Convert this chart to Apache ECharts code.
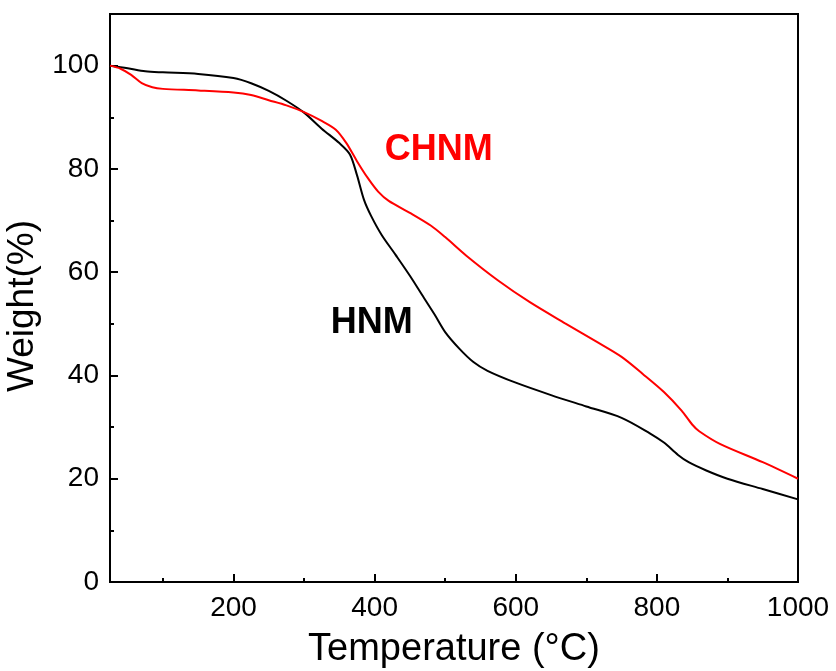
<!DOCTYPE html>
<html>
<head>
<meta charset="utf-8">
<script src="https://cdn.jsdelivr.net/npm/echarts@6/dist/echarts.min.js"></script>
<style>html,body{margin:0;padding:0;background:#fff}#c{width:836px;height:671px}</style>
</head>
<body>
<div id="c"></div>
<script>
var hnmT = [25,50,75,100,150,200,225,250,275,300,325,350,365,375,385,395,410,430,450,470,485,500,520,540,560,600,650,700,750,790,810,830,845,870,900,950,1000];
var hnmW = [100,99.5,98.9,98.7,98.4,97.6,96.6,95.1,93.2,90.9,87.8,85.0,82.8,78.8,74.0,70.9,67.2,63.3,59.3,55.0,51.8,48.4,45.2,42.6,40.9,38.6,36.2,34.0,31.8,28.8,27.0,24.6,23.2,21.6,20.0,18.0,16.0];
var chnmT = [25,40,55,70,85,100,150,200,225,250,275,300,325,345,360,375,390,405,420,450,480,500,530,575,620,670,715,750,780,810,835,850,860,890,950,1000];
var chnmW = [100,99.4,98.2,96.6,95.8,95.5,95.2,94.8,94.3,93.3,92.3,91.0,89.3,87.6,85.0,81.5,78.3,75.6,73.8,71.5,69.0,66.8,63.2,58.4,54.2,50.1,46.5,43.6,40.3,36.8,33.2,30.5,29.2,26.7,23.2,20.0];
var xMajor = [200,400,600,800,1000];
var xMinor = [100,300,500,700,900];
var yMajor = [0,20,40,60,80,100];
var yMinor = [10,30,50,70,90];

function pairs(a,b){return a.map(function(v,i){return [v,b[i]];});}
var FONT = 'Liberation Sans, Arial, sans-serif';
var chart = echarts.init(document.getElementById('c'), null, {renderer:'canvas'});
chart.setOption({
  animation:false,
  backgroundColor:'#fff',
  grid:{left:110,right:38,top:14,bottom:89,show:true,borderColor:'#000',borderWidth:2,backgroundColor:'transparent',containLabel:false,outerBoundsMode:'none'},
  xAxis:[{
    type:'value',min:25,max:1000,
    name:'Temperature (°C)',nameLocation:'middle',nameGap:49,
    nameTextStyle:{fontFamily:FONT,fontSize:38,color:'#000'},
    axisLine:{show:true,lineStyle:{color:'#000',width:2}},
    axisTick:{show:true,inside:true,length:8,lineStyle:{color:'#000',width:2},customValues:xMajor},
    axisLabel:{fontFamily:FONT,fontSize:28,color:'#000',margin:12,customValues:xMajor,formatter:function(v){return String(v);}},
    splitLine:{show:false}
  },{
    type:'value',min:25,max:1000,position:'bottom',
    axisLine:{show:false},
    axisTick:{show:true,inside:true,length:4,lineStyle:{color:'#000',width:2},customValues:xMinor},
    axisLabel:{show:false},
    splitLine:{show:false}
  }],
  yAxis:[{
    type:'value',min:0,max:110,
    name:'Weight(%)',nameLocation:'middle',nameGap:52,
    nameTextStyle:{fontFamily:FONT,fontSize:37,color:'#000',padding:[0,16,0,0]},
    axisLine:{show:true,lineStyle:{color:'#000',width:2}},
    axisTick:{show:true,inside:true,length:8,lineStyle:{color:'#000',width:2},customValues:yMajor},
    axisLabel:{fontFamily:FONT,fontSize:28,color:'#000',margin:11,customValues:yMajor,formatter:function(v){return String(v);}},
    splitLine:{show:false}
  },{
    type:'value',min:0,max:110,position:'left',
    axisLine:{show:false},
    axisTick:{show:true,inside:true,length:4,lineStyle:{color:'#000',width:2},customValues:yMinor},
    axisLabel:{show:false},
    splitLine:{show:false}
  }],
  series:[{
    name:'HNM',type:'line',data:pairs(hnmT,hnmW),smooth:0.3,showSymbol:false,
    lineStyle:{color:'#000',width:2},itemStyle:{color:'#000'},
    markPoint:{symbol:'circle',symbolSize:0,
      label:{show:true,position:'inside',formatter:'HNM',color:'#000',fontFamily:FONT,fontSize:36,fontWeight:'bold'},
      data:[{coord:[396,50.2]}]}
  },{
    name:'CHNM',type:'line',data:pairs(chnmT,chnmW),smooth:0.3,showSymbol:false,
    lineStyle:{color:'#ff0000',width:2},itemStyle:{color:'#ff0000'},
    markPoint:{symbol:'circle',symbolSize:0,
      label:{show:true,position:'inside',formatter:'CHNM',color:'#ff0000',fontFamily:FONT,fontSize:36,fontWeight:'bold'},
      data:[{coord:[491,83.7]}]}
  }]
});
</script>
</body>
</html>
